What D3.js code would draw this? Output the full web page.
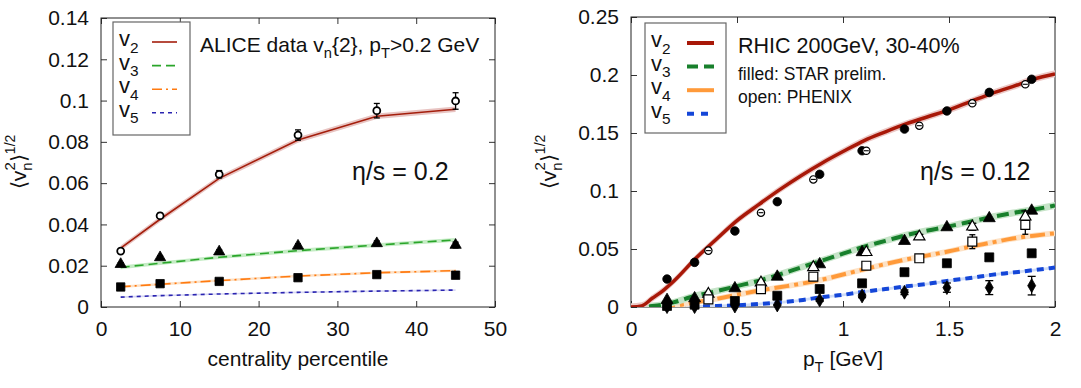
<!DOCTYPE html>
<html>
<head>
<meta charset="utf-8">
<script src="https://cdn.jsdelivr.net/npm/d3@7"></script>
<style>
  body { margin: 0; background: #fff; }
  svg text { font-family: "Liberation Sans", Arial, Helvetica, sans-serif; fill: #111; }
</style>
</head>
<body>
<svg id="chart" width="1081" height="388"></svg>
<script>
// ---- left panel: ALICE centrality dependence ----
var centrality = [2.5, 7.5, 15, 25, 35, 45];
var aliceV2 = [0.0271, 0.0442, 0.0643, 0.0833, 0.0951, 0.0998];
var aliceV2Err = [0.0008, 0.0012, 0.0018, 0.0025, 0.0035, 0.0040];
var aliceV3 = [0.0207, 0.0240, 0.0268, 0.0296, 0.0308, 0.0300];
var aliceV3Err = [0.0008, 0.0008, 0.0009, 0.0010, 0.0012, 0.0014];
var aliceV4 = [0.0097, 0.0113, 0.0124, 0.0142, 0.0157, 0.0154];
var hydroCentV2 = [0.0285, 0.0425, 0.0623, 0.0809, 0.0924, 0.0958];
var hydroCentV3 = [0.0192, 0.0212, 0.0241, 0.0273, 0.0300, 0.0325];
var hydroCentV4 = [0.0098, 0.0110, 0.0128, 0.0150, 0.0166, 0.0176];
var hydroCentV5 = [0.0048, 0.0055, 0.0063, 0.0071, 0.0077, 0.0082];
var leftXTicks = [0, 10, 20, 30, 40, 50];
var leftYTicks = [0, 0.02, 0.04, 0.06, 0.08, 0.1, 0.12, 0.14];

// ---- right panel: RHIC pT dependence ----
var ptGrid = [0, 0.05, 0.1, 0.15, 0.2, 0.3, 0.4, 0.5, 0.6, 0.7, 0.8, 0.9, 1.0, 1.1, 1.2, 1.3, 1.4, 1.5, 1.6, 1.7, 1.8, 1.9, 2.0];
var hydroPtV2 = [0, 0.001, 0.0075, 0.014, 0.022, 0.041, 0.058, 0.0745, 0.088, 0.101, 0.113, 0.124, 0.134, 0.1435, 0.151, 0.158, 0.164, 0.170, 0.177, 0.184, 0.190, 0.1965, 0.201];
var hydroPtV3 = [0, 0, 0.0008, 0.002, 0.004, 0.0095, 0.0135, 0.018, 0.0225, 0.028, 0.034, 0.040, 0.046, 0.052, 0.057, 0.062, 0.066, 0.0695, 0.0735, 0.0775, 0.081, 0.084, 0.0875];
var hydroPtV4 = [0, 0, 0, 0.0005, 0.001, 0.004, 0.007, 0.0105, 0.014, 0.017, 0.020, 0.0235, 0.028, 0.0325, 0.037, 0.041, 0.0445, 0.048, 0.052, 0.0555, 0.059, 0.0615, 0.0635];
var hydroPtV5 = [0, 0, 0, 0, 0, 0.0003, 0.0008, 0.0015, 0.0025, 0.004, 0.0058, 0.0085, 0.0105, 0.0132, 0.0155, 0.0178, 0.020, 0.0228, 0.025, 0.0277, 0.0297, 0.0318, 0.034];
var starPt = [0.17, 0.30, 0.49, 0.69, 0.89, 1.09, 1.29, 1.49, 1.69, 1.89];
var starV2 = [0.0241, 0.0385, 0.0655, 0.0908, 0.1144, 0.1347, 0.1534, 0.1690, 0.1850, 0.1963];
var starV3 = [0.0060, 0.0075, 0.0161, 0.0261, 0.0368, 0.0472, 0.0569, 0.0687, 0.0765, 0.0830];
var starV4 = [0.0009, 0.0020, 0.0052, 0.0097, 0.0155, 0.0204, 0.0300, 0.0377, 0.0428, 0.0463];
var starV5 = [0.0003, 0.0003, 0.0008, 0.0017, 0.0060, 0.0095, 0.0127, 0.0167, 0.0167, 0.0184];
var starV5Err = [0, 0, 0, 0, 0.0012, 0.0015, 0.002, 0.004, 0.006, 0.008];
var phenixPt = [0.365, 0.613, 0.86, 1.11, 1.36, 1.61, 1.86];
var phenixV2 = [0.0486, 0.0813, 0.1100, 0.1347, 0.1563, 0.1756, 0.1920];
var phenixV3 = [0.0112, 0.0210, 0.0342, 0.0472, 0.0606, 0.0692, 0.0778];
var phenixV3Err = [0.001, 0.0012, 0.0015, 0.0018, 0.002, 0.003, 0.005];
var phenixV4 = [0.0066, 0.0153, 0.0261, 0.0356, 0.0420, 0.0563, 0.0707];
var phenixV4Err = [0.0015, 0.002, 0.002, 0.0025, 0.003, 0.006, 0.008];
var rightXTicks = [0, 0.5, 1, 1.5, 2];
var rightYTicks = [0, 0.05, 0.1, 0.15, 0.2, 0.25];

var svg = d3.select("#chart");

function zip(xs, ys) {
    return xs.map(function (x, i) { return [x, ys[i]]; });
}

// text with subscripts, parts = [[text, "n"|"sub"|"back", dy]]
function richText(g, x, y, parts, size, anchor) {
    var t = g.append("text").attr("x", x).attr("y", y)
        .attr("font-size", size).attr("text-anchor", anchor || "start");
    parts.forEach(function (p) {
        var s = t.append("tspan").text(p[0]);
        if (p[1] == "sub") s.attr("font-size", size * 0.7).attr("dy", size * 0.3);
        else if (p[1] == "back") s.attr("dy", p[2]);
    });
    return t;
}

function makePanel(opt) {
    var g = svg.append("g");
    var sx = d3.scaleLinear().domain(opt.xdom).range([opt.x0, opt.x1]);
    var sy = d3.scaleLinear().domain(opt.ydom).range([opt.y0, opt.y1]);
    var w = opt.x1 - opt.x0, h = opt.y0 - opt.y1;

    // axes, ticks point inward on all four sides
    var fmt = function (d) { return String(+d.toFixed(3)); };
    var bottom = g.append("g").attr("transform", "translate(0," + opt.y0 + ")")
        .call(d3.axisBottom(sx).tickValues(opt.xticks).tickSizeInner(-6).tickSizeOuter(0).tickPadding(14).tickFormat(fmt));
    var top = g.append("g").attr("transform", "translate(0," + opt.y1 + ")")
        .call(d3.axisTop(sx).tickValues(opt.xticks).tickSizeInner(-6).tickSizeOuter(0).tickFormat(""));
    var left = g.append("g").attr("transform", "translate(" + opt.x0 + ",0)")
        .call(d3.axisLeft(sy).tickValues(opt.yticks).tickSizeInner(-6).tickSizeOuter(0).tickPadding(12).tickFormat(fmt));
    var right = g.append("g").attr("transform", "translate(" + opt.x1 + ",0)")
        .call(d3.axisRight(sy).tickValues(opt.yticks).tickSizeInner(-6).tickSizeOuter(0).tickFormat(""));
    [bottom, top, left, right].forEach(function (a) {
        a.select(".domain").remove();
        a.selectAll("line").attr("stroke", "#333");
        a.selectAll("text").attr("font-size", 21).attr("font-family", "Liberation Sans, Arial, sans-serif").attr("fill", "#111");
    });
    g.append("rect").attr("x", opt.x0).attr("y", opt.y1).attr("width", w).attr("height", h)
        .attr("fill", "none").attr("stroke", "#222").attr("stroke-width", 1);

    g.append("clipPath").attr("id", opt.id + "clip")
        .append("rect").attr("x", opt.x0).attr("y", opt.y1).attr("width", w).attr("height", h);
    var plot = g.append("g").attr("clip-path", "url(#" + opt.id + "clip)");
    return { g: g, plot: plot, sx: sx, sy: sy, curve: opt.curve };
}

function drawCurve(p, xs, ys, band, bandColor, color, width, dash) {
    var area = d3.area().x(function (d) { return p.sx(d[0]); })
        .y0(function (d) { return p.sy(d[1] - band); })
        .y1(function (d) { return p.sy(d[1] + band); })
        .curve(p.curve);
    var line = d3.line().x(function (d) { return p.sx(d[0]); }).y(function (d) { return p.sy(d[1]); })
        .curve(p.curve);
    var pts = zip(xs, ys);
    p.plot.append("path").datum(pts).attr("d", area).attr("fill", bandColor).attr("stroke", "none");
    p.plot.append("path").datum(pts).attr("d", line).attr("fill", "none")
        .attr("stroke", color).attr("stroke-width", width).attr("stroke-dasharray", dash || null);
}

function errBars(p, xs, ys, errs, cap) {
    xs.forEach(function (x, i) {
        if (!errs || !errs[i]) return;
        var cx = p.sx(x), ya = p.sy(ys[i] - errs[i]), yb = p.sy(ys[i] + errs[i]);
        p.plot.append("line").attr("x1", cx).attr("x2", cx).attr("y1", ya).attr("y2", yb).attr("stroke", "#000").attr("stroke-width", 1.3);
        p.plot.append("line").attr("x1", cx - cap).attr("x2", cx + cap).attr("y1", ya).attr("y2", ya).attr("stroke", "#000").attr("stroke-width", 1.3);
        p.plot.append("line").attr("x1", cx - cap).attr("x2", cx + cap).attr("y1", yb).attr("y2", yb).attr("stroke", "#000").attr("stroke-width", 1.3);
    });
}

function markers(p, xs, ys, type, size, filled, sw) {
    var sym = d3.symbol().type(type).size(size);
    p.g.selectAll(null).data(zip(xs, ys)).enter().append("path")
        .attr("transform", function (d) { return "translate(" + p.sx(d[0]) + "," + p.sy(d[1]) + ")"; })
        .attr("d", sym)
        .attr("fill", filled ? "#000" : "#fff")
        .attr("stroke", "#000").attr("stroke-width", sw || (filled ? 0.8 : 1.2));
}

// short horizontal stroke inside the open PHENIX circles
function innerDash(p, xs, ys, half) {
    p.g.selectAll(null).data(zip(xs, ys)).enter().append("line")
        .attr("x1", function (d) { return p.sx(d[0]) - half; })
        .attr("x2", function (d) { return p.sx(d[0]) + half; })
        .attr("y1", function (d) { return p.sy(d[1]); })
        .attr("y2", function (d) { return p.sy(d[1]); })
        .attr("stroke", "#000").attr("stroke-width", 1.1);
}

function legend(g, x, y, w, h, rows) {
    g.append("rect").attr("x", x).attr("y", y).attr("width", w).attr("height", h)
        .attr("fill", "#fff").attr("stroke", "#666").attr("stroke-width", 1.2);
    rows.forEach(function (r, i) {
        var by = y + 24 + i * 23.6;
        richText(g, x + 6, by, [["v", "n"], [r.n, "sub"]], 22);
        g.append("line").attr("x1", x + r.lx0).attr("x2", x + r.lx1).attr("y1", by - 4).attr("y2", by - 4)
            .attr("stroke", r.color).attr("stroke-width", r.width).attr("stroke-dasharray", r.dash || null);
    });
}

function yLabel(g, x, y) {
    var t = g.append("text").attr("transform", "translate(" + x + "," + y + ") rotate(-90)")
        .attr("font-size", 21).attr("text-anchor", "middle");
    t.append("tspan").text("\u27E8v");
    t.append("tspan").text("n").attr("font-size", 15).attr("dy", 6);
    t.append("tspan").text("2").attr("font-size", 15).attr("dy", -17).attr("dx", -8);
    t.append("tspan").text("\u27E9").attr("dy", 11);
    t.append("tspan").text("1/2").attr("font-size", 14).attr("dy", -11);
}

// ---------- left ----------
var L = makePanel({ id: "L", xdom: [0, 50], ydom: [0, 0.14], x0: 101, x1: 495, y0: 307, y1: 18,
    xticks: leftXTicks, yticks: leftYTicks, curve: d3.curveLinear });
drawCurve(L, centrality, hydroCentV5, 0.0004, "#d8d8f4", "#2a24b0", 1.6, "4,4");
drawCurve(L, centrality, hydroCentV4, 0.0006, "#fde0c4", "#ff7a10", 1.6, "10,4,2,4");
drawCurve(L, centrality, hydroCentV3, 0.0009, "#c4ecc4", "#2aa52a", 1.6, "9,5");
drawCurve(L, centrality, hydroCentV2, 0.0013, "#e8c4c2", "#a41e0c", 1.6);
errBars(L, centrality, aliceV3, aliceV3Err, 3);
markers(L, centrality, aliceV2, d3.symbolCircle, 38, false, 1.8);
errBars(L, centrality, aliceV2, aliceV2Err, 3);
markers(L, centrality, aliceV3, d3.symbolTriangle, 55, true);
markers(L, centrality, aliceV4, d3.symbolSquare, 70, true);
legend(L.g, 113, 22, 77, 113, [
    { n: "2", color: "#a41e0c", width: 1.6, lx0: 39, lx1: 64 },
    { n: "3", color: "#2aa52a", width: 1.6, dash: "9,5", lx0: 39, lx1: 64 },
    { n: "4", color: "#ff7a10", width: 1.6, dash: "10,4,2,4", lx0: 39, lx1: 64 },
    { n: "5", color: "#2a24b0", width: 1.6, dash: "4,4", lx0: 39, lx1: 64 }
]);
richText(L.g, 200, 52, [["ALICE data v", "n"], ["n", "sub"], ["{2}, p", "back", -6.3], ["T", "sub"], [">0.2 GeV", "back", -6.3]], 21);
L.g.append("text").attr("x", 352).attr("y", 180).attr("font-size", 25).text("\u03B7/s = 0.2");
L.g.append("text").attr("x", 298).attr("y", 366).attr("font-size", 21).attr("text-anchor", "middle").text("centrality percentile");
yLabel(L.g, 26, 162);

// ---------- right ----------
var R = makePanel({ id: "R", xdom: [0, 2], ydom: [0, 0.25], x0: 631, x1: 1055, y0: 307, y1: 17,
    xticks: rightXTicks, yticks: rightYTicks, curve: d3.curveMonotoneX });
drawCurve(R, ptGrid, hydroPtV5, 0.0012, "#cfdcf6", "#1446d8", 4, "7,5");
drawCurve(R, ptGrid, hydroPtV4, 0.0025, "#fde2c6", "#ff9a3a", 4, "15,5,4,5");
drawCurve(R, ptGrid, hydroPtV3, 0.003, "#c6e4c8", "#18802c", 4, "12,6");
drawCurve(R, ptGrid, hydroPtV2, 0.003, "#ecc8c6", "#a81808", 3.5);
errBars(R, starPt, starV5, starV5Err, 4);
errBars(R, phenixPt, phenixV3, phenixV3Err, 4);
markers(R, starPt, starV2, d3.symbolCircle, 58, true);
markers(R, phenixPt, phenixV2, d3.symbolCircle, 42, false);
innerDash(R, phenixPt, phenixV2, 2.5);
markers(R, starPt, starV3, d3.symbolTriangle, 62, true);
markers(R, phenixPt, phenixV3, d3.symbolTriangle, 55, false);
markers(R, starPt, starV4, d3.symbolSquare, 80, true);
markers(R, phenixPt, phenixV4, d3.symbolSquare, 80, false);
errBars(R, phenixPt, phenixV4, phenixV4Err, 3);
markers(R, starPt, starV5, d3.symbolDiamond, 55, true);
legend(R.g, 645, 23, 81, 110, [
    { n: "2", color: "#a81808", width: 4, lx0: 42, lx1: 69 },
    { n: "3", color: "#18802c", width: 4, dash: "11,6", lx0: 42, lx1: 69 },
    { n: "4", color: "#ff9a3a", width: 4, lx0: 42, lx1: 69 },
    { n: "5", color: "#1446d8", width: 4, dash: "7,7", lx0: 42, lx1: 69 }
]);
R.g.append("text").attr("x", 738).attr("y", 53).attr("font-size", 21.5).text("RHIC 200GeV, 30-40%");
R.g.append("text").attr("x", 738).attr("y", 80).attr("font-size", 17.5).text("filled: STAR prelim.");
R.g.append("text").attr("x", 738).attr("y", 103).attr("font-size", 17.5).text("open: PHENIX");
R.g.append("text").attr("x", 920).attr("y", 180).attr("font-size", 25).text("\u03B7/s = 0.12");
richText(R.g, 843, 366, [["p", "n"], ["T", "sub"], [" [GeV]", "back", -6.3]], 21, "middle");
yLabel(R.g, 556, 162);
</script>
</body>
</html>
